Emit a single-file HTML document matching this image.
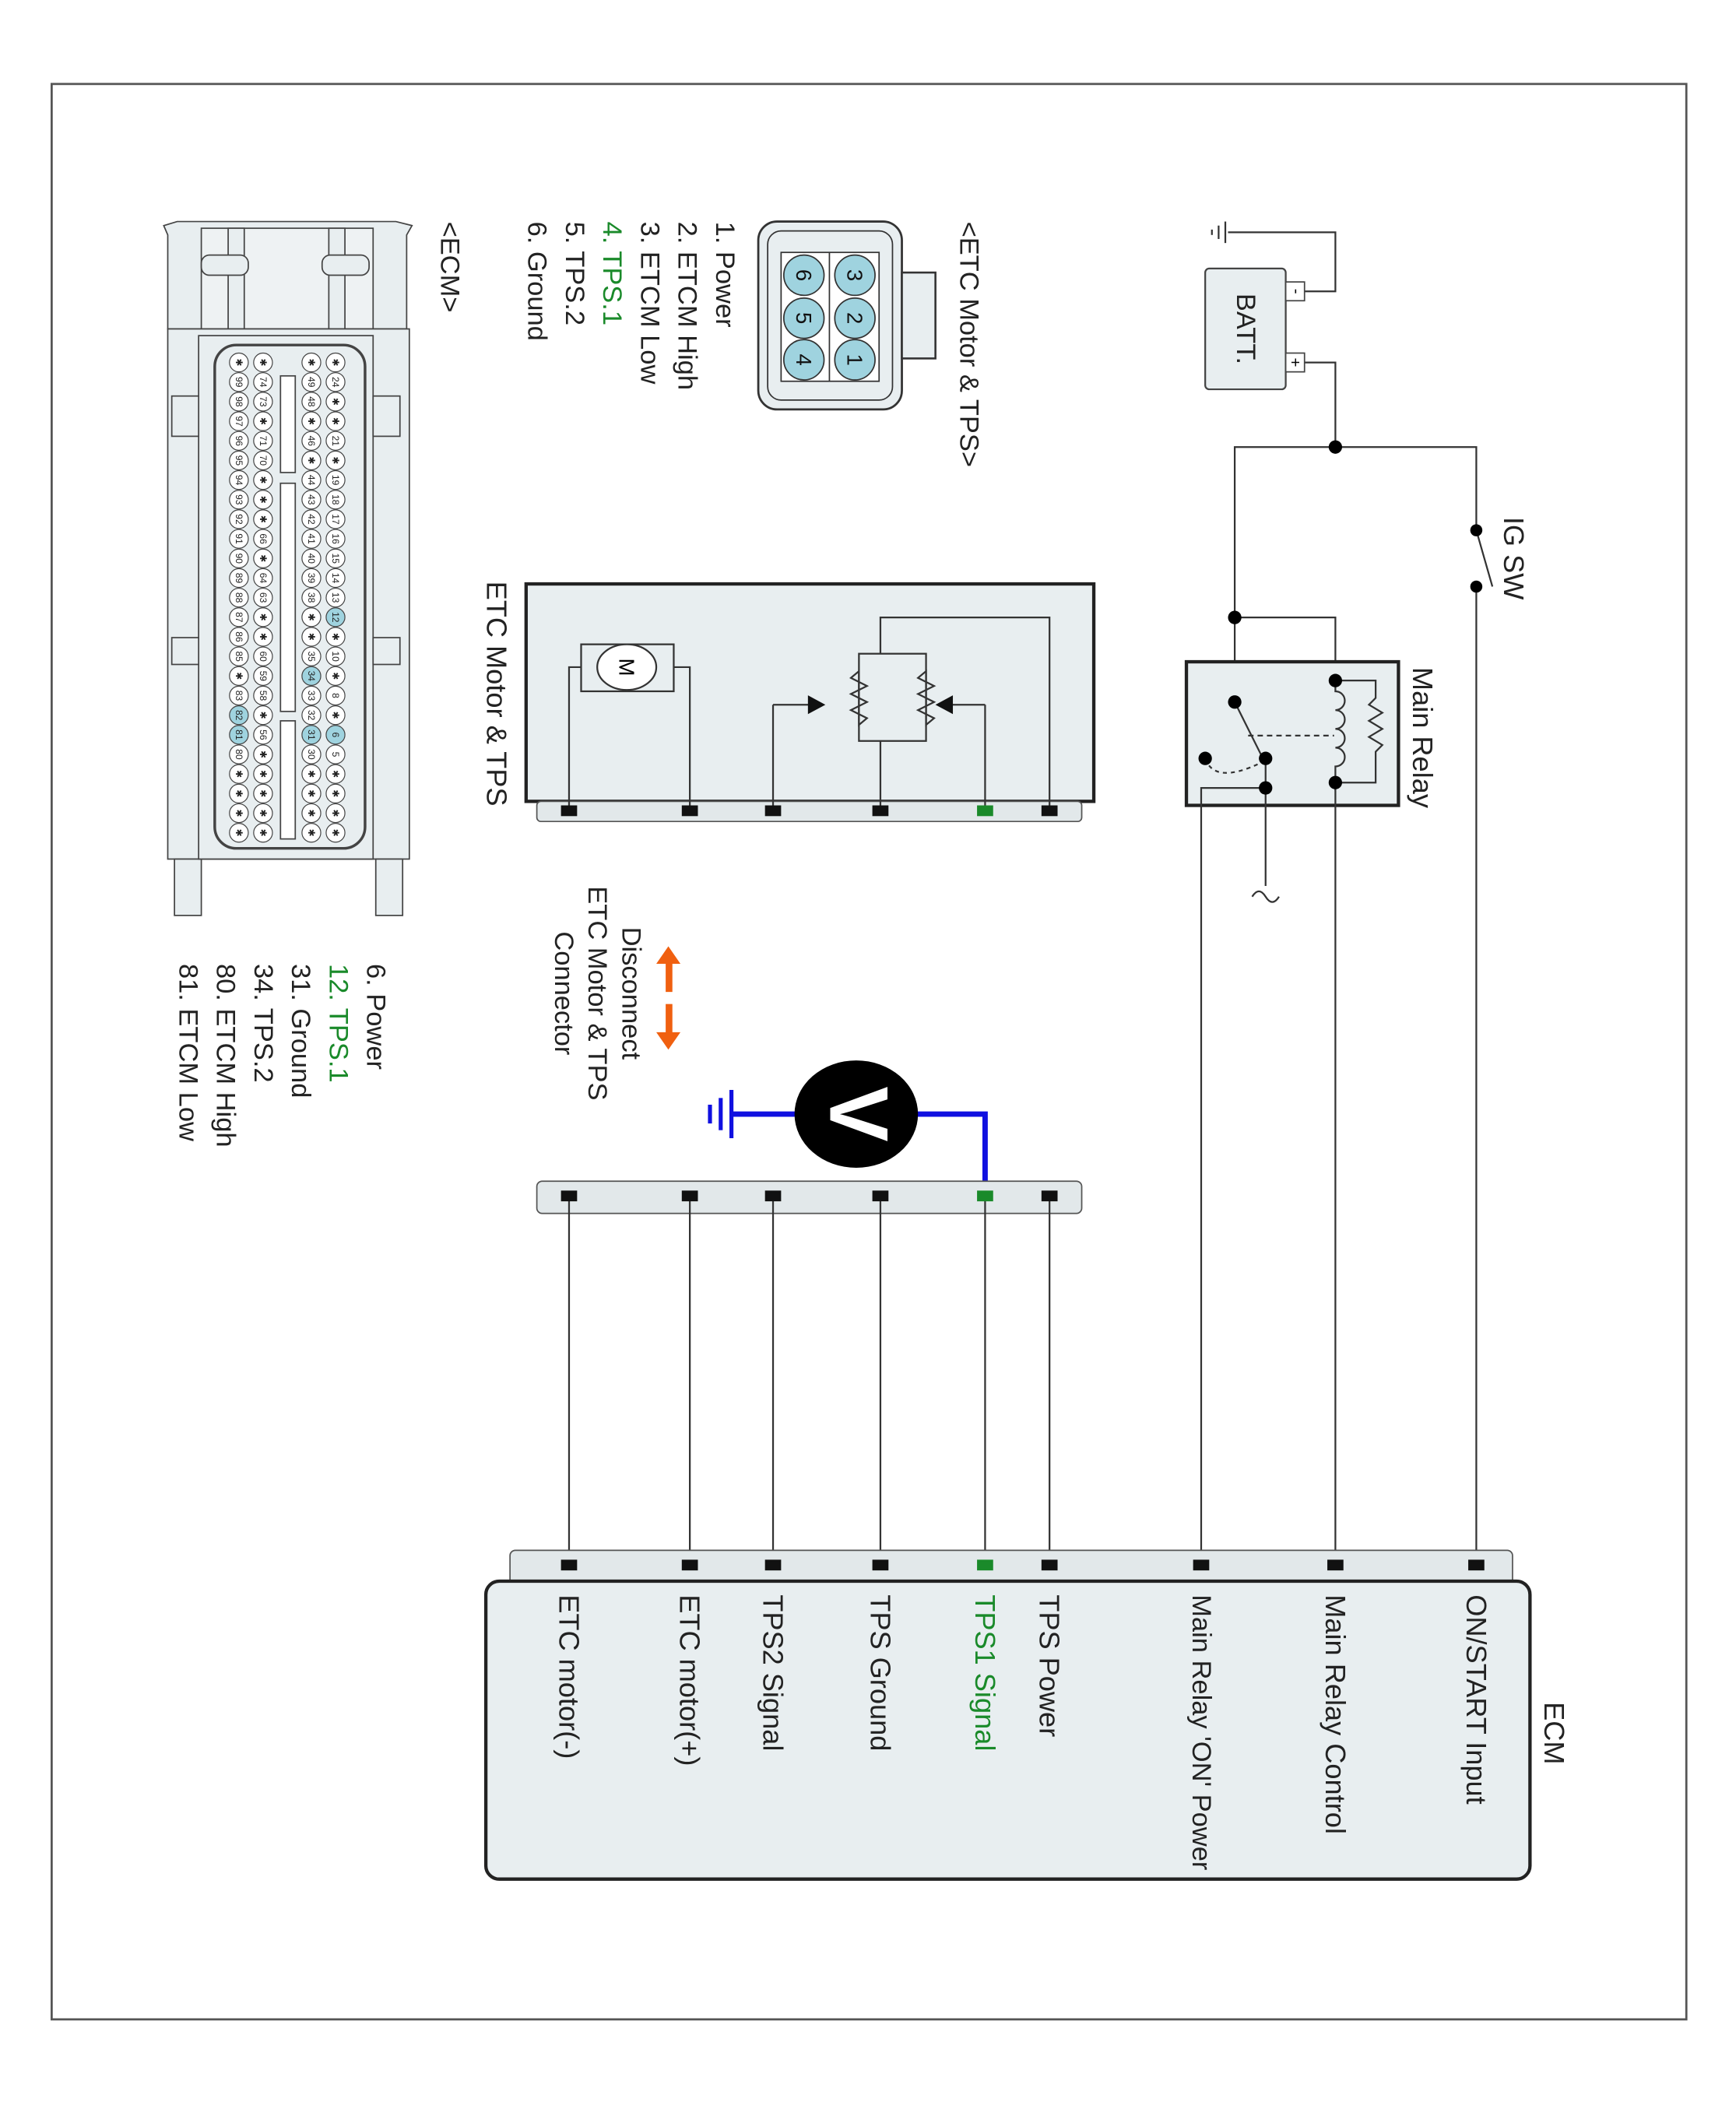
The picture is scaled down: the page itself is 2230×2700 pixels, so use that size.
<!DOCTYPE html>
<html><head><meta charset="utf-8"><style>html,body{margin:0;padding:0;background:#fff}svg{display:block}</style></head>
<body>
<svg width="2230" height="2700" viewBox="0 0 1293.5 1566" xmlns="http://www.w3.org/2000/svg" font-family="Liberation Sans, Arial, sans-serif">
<rect x="0" y="0" width="1300" height="1574" fill="#fff"/>
<rect x="38.5" y="62.5" width="1218" height="1442" fill="none" stroke="#555" stroke-width="1.6"/>

<!-- Battery -->
<g stroke="#333" stroke-width="1.3" fill="none">
<polyline points="972,217 995,217 995,173 915,173"/>
<line x1="913" y1="165" x2="913" y2="181"/><line x1="908" y1="168" x2="908" y2="178"/><line x1="903" y1="171" x2="903" y2="175"/>
<polyline points="972,270 995,270 995,333"/>
<polyline points="920,460 920,333 1100,333 1100,395"/>
<line x1="1100" y1="437" x2="1100" y2="1166"/>
<line x1="1100" y1="395" x2="1112" y2="437"/>
<polyline points="920,460 995,460 995,505"/>
<line x1="920" y1="460" x2="920" y2="523"/>
</g>
<rect x="898" y="200" width="60" height="90" rx="3" fill="#e8eef0" stroke="#444" stroke-width="1.3"/>
<rect x="958" y="210" width="14" height="14" fill="#fff" stroke="#444"/><rect x="958" y="263" width="14" height="14" fill="#fff" stroke="#444"/>
<text transform="translate(966,217) rotate(90)" font-size="12" text-anchor="middle" dominant-baseline="central">-</text>
<text transform="translate(965,270) rotate(90)" font-size="12" text-anchor="middle" dominant-baseline="central">+</text>
<text transform="translate(928,245) rotate(90)" font-size="20" text-anchor="middle" dominant-baseline="central" fill="#222">BATT.</text>
<circle cx="995" cy="333" r="5"/>
<circle cx="1100" cy="395" r="4.5"/><circle cx="1100" cy="437" r="4.5"/>
<text transform="translate(1128,385) rotate(90)" font-size="21" dominant-baseline="central" fill="#222">IG SW</text>
<circle cx="920" cy="460" r="5"/>

<!-- Main Relay -->
<rect x="884" y="493" width="158" height="107" fill="#e8eef0" stroke="#222" stroke-width="2.5"/>
<text transform="translate(1060,497) rotate(90)" font-size="21" dominant-baseline="central" fill="#222">Main Relay</text>
<g stroke="#333" stroke-width="1.3" fill="none">
<polyline points="995,507 1025,507 1025,520 1020,525 1030,531 1020,537 1030,543 1020,549 1030,555 1025,560 1025,583 995,583"/>
<path d="M995,507 v8 a7,7 0 0 1 0,14 a7,7 0 0 1 0,14 a7,7 0 0 1 0,14 a7,7 0 0 1 0,14 v18"/>
<line x1="995" y1="583" x2="995" y2="1166"/>
<line x1="920" y1="523" x2="940" y2="563"/>
<line x1="930" y1="548" x2="994" y2="548" stroke-dasharray="4,3"/>
<path d="M898,565 Q905,585 940,568" stroke-dasharray="3,3"/>
<line x1="943" y1="565" x2="943" y2="660"/>
<path d="M933,668 q5,-8 10,0 q5,8 10,0"/>
<polyline points="943,587 895,587 895,1166"/>
</g>
<circle cx="920" cy="523" r="5"/><circle cx="943" cy="565" r="5"/><circle cx="943" cy="587" r="5"/><circle cx="898" cy="565" r="5"/>
<circle cx="995" cy="507" r="5"/><circle cx="995" cy="583" r="5"/>

<!-- ETC Motor & TPS -->
<rect x="392" y="435" width="423" height="162" fill="#e8eef0" stroke="#222" stroke-width="2.5"/>
<rect x="400" y="597" width="406" height="15" rx="3" fill="#e2e8ea" stroke="#555"/>
<text transform="translate(370,433) rotate(90)" font-size="21" dominant-baseline="central" fill="#222">ETC Motor &amp; TPS</text>
<g stroke="#333" stroke-width="1.3" fill="none">
<polyline points="424,604 424,497 440,497"/><polyline points="514,604 514,497 495,497"/>
<rect x="433" y="480" width="69" height="35" fill="#e8eef0"/>
<ellipse cx="467" cy="497" rx="22" ry="17" fill="#fff"/>
<line x1="576" y1="604" x2="576" y2="525"/><line x1="576" y1="525" x2="605" y2="525"/>
<line x1="734" y1="604" x2="734" y2="525"/><line x1="734" y1="525" x2="705" y2="525"/>
<polyline points="782,604 782,460 656,460 656,487"/>
<line x1="656" y1="552" x2="656" y2="604"/>
<rect x="640" y="487" width="50" height="65"/>
<polyline points="640,520 640,500 634,505 646,511 634,517 646,523 634,529 646,535 640,540 640,520"/>
<polyline points="690,520 690,500 684,505 696,511 684,517 696,523 684,529 696,535 690,540 690,520"/>
</g>
<text transform="translate(467,497) rotate(90)" font-size="16" text-anchor="middle" dominant-baseline="central">M</text>
<polygon points="615,525 602,518 602,532" fill="#111"/>
<polygon points="697,525 710,518 710,532" fill="#111"/>
<g fill="#111"><rect x="418" y="600" width="12" height="8"/><rect x="508" y="600" width="12" height="8"/><rect x="570" y="600" width="12" height="8"/><rect x="650" y="600" width="12" height="8"/><rect x="776" y="600" width="12" height="8"/></g>
<rect x="728" y="600" width="12" height="8" fill="#1a8a2a"/>

<!-- Disconnect -->
<polygon points="498,705 489,718 507,718" fill="#f06010"/><rect x="496" y="717" width="5" height="22" fill="#f06010"/>
<polygon points="498,782 489,769 507,769" fill="#f06010"/><rect x="496" y="748" width="5" height="22" fill="#f06010"/>
<g font-size="20" fill="#222" text-anchor="middle" dominant-baseline="central">
<text transform="translate(470,740) rotate(90)">Disconnect</text>
<text transform="translate(445,740) rotate(90)">ETC Motor &amp; TPS</text>
<text transform="translate(420,740) rotate(90)">Connector</text>
</g>

<!-- Voltmeter -->
<g stroke="#1010e0" stroke-width="4" fill="none">
<polyline points="734,891 734,830 680,830"/>
<line x1="596" y1="830" x2="545" y2="830"/>
<line x1="545" y1="812" x2="545" y2="848" stroke-width="3"/>
<line x1="537" y1="818" x2="537" y2="842" stroke-width="3"/>
<line x1="529" y1="823" x2="529" y2="837" stroke-width="3"/>
</g>
<ellipse cx="638" cy="830" rx="46" ry="40" fill="#000"/>
<text transform="translate(640,830) rotate(90)" font-size="62" font-weight="bold" fill="#fff" text-anchor="middle" dominant-baseline="central">V</text>

<!-- lower connector -->
<rect x="400" y="880" width="406" height="24" rx="4" fill="#e2e8ea" stroke="#555"/>
<g stroke="#333" stroke-width="1.3">
<line x1="424" y1="891" x2="424" y2="1166"/><line x1="514" y1="891" x2="514" y2="1166"/><line x1="576" y1="891" x2="576" y2="1166"/>
<line x1="656" y1="891" x2="656" y2="1166"/><line x1="734" y1="891" x2="734" y2="1166"/><line x1="782" y1="891" x2="782" y2="1166"/>
</g>
<g fill="#111"><rect x="418" y="887" width="12" height="8"/><rect x="508" y="887" width="12" height="8"/><rect x="570" y="887" width="12" height="8"/><rect x="650" y="887" width="12" height="8"/><rect x="776" y="887" width="12" height="8"/></g>
<rect x="728" y="887" width="12" height="8" fill="#1a8a2a"/>

<!-- ECM -->
<rect x="380" y="1155" width="747" height="26" rx="4" fill="#e2e8ea" stroke="#555"/>
<rect x="362" y="1178" width="778" height="222" rx="10" fill="#e8eef0" stroke="#222" stroke-width="2.5"/>
<g fill="#111"><rect x="418" y="1162" width="12" height="8"/><rect x="508" y="1162" width="12" height="8"/><rect x="570" y="1162" width="12" height="8"/><rect x="650" y="1162" width="12" height="8"/><rect x="776" y="1162" width="12" height="8"/><rect x="889" y="1162" width="12" height="8"/><rect x="989" y="1162" width="12" height="8"/><rect x="1094" y="1162" width="12" height="8"/></g>
<rect x="728" y="1162" width="12" height="8" fill="#1a8a2a"/>
<g font-size="21" fill="#222" dominant-baseline="central">
<text transform="translate(424,1188) rotate(90)">ETC motor(-)</text>
<text transform="translate(514,1188) rotate(90)">ETC motor(+)</text>
<text transform="translate(576,1188) rotate(90)">TPS2 Signal</text>
<text transform="translate(656,1188) rotate(90)">TPS Ground</text>
<text transform="translate(734,1188) rotate(90)" fill="#1a8a2a">TPS1 Signal</text>
<text transform="translate(782,1188) rotate(90)">TPS Power</text>
<text transform="translate(895,1188) rotate(90)" font-size="20">Main Relay 'ON' Power</text>
<text transform="translate(995,1188) rotate(90)">Main Relay Control</text>
<text transform="translate(1100,1188) rotate(90)">ON/START Input</text>
<text transform="translate(1158,1268) rotate(90)">ECM</text>
</g>

<!-- ETC connector icon -->
<rect x="565" y="165" width="107" height="140" rx="14" fill="#e8eef0" stroke="#333" stroke-width="1.6"/>
<rect x="572" y="172" width="93" height="126" rx="10" fill="none" stroke="#333"/>
<rect x="672" y="203" width="25" height="64" fill="#e8eef0" stroke="#333" stroke-width="1.5"/>
<rect x="582" y="188" width="73" height="96" fill="#fff" stroke="#333"/>
<line x1="618" y1="188" x2="618" y2="284" stroke="#333"/>
<g fill="#9fd3df" stroke="#333">
<circle cx="637" cy="205" r="15"/><circle cx="637" cy="237" r="15"/><circle cx="637" cy="268" r="15"/>
<circle cx="599" cy="205" r="15"/><circle cx="599" cy="237" r="15"/><circle cx="599" cy="268" r="15"/>
</g>
<g font-size="16" text-anchor="middle" dominant-baseline="central" fill="#111">
<text transform="translate(637,205) rotate(90)">3</text><text transform="translate(637,237) rotate(90)">2</text><text transform="translate(637,268) rotate(90)">1</text>
<text transform="translate(599,205) rotate(90)">6</text><text transform="translate(599,237) rotate(90)">5</text><text transform="translate(599,268) rotate(90)">4</text>
</g>
<g font-size="20" fill="#222" dominant-baseline="central">
<text transform="translate(722,165) rotate(90)">&lt;ETC Motor &amp; TPS&gt;</text>
<text transform="translate(540,165) rotate(90)">1. Power</text>
<text transform="translate(512,165) rotate(90)">2. ETCM High</text>
<text transform="translate(484,165) rotate(90)">3. ETCM Low</text>
<text transform="translate(456,165) rotate(90)" fill="#1a8a2a">4. TPS.1</text>
<text transform="translate(428,165) rotate(90)">5. TPS.2</text>
<text transform="translate(400,165) rotate(90)">6. Ground</text>
<text transform="translate(335,165) rotate(90)">&lt;ECM&gt;</text>
<text transform="translate(280,718) rotate(90)">6. Power</text>
<text transform="translate(252,718) rotate(90)" fill="#1a8a2a">12. TPS.1</text>
<text transform="translate(224,718) rotate(90)">31. Ground</text>
<text transform="translate(196,718) rotate(90)">34. TPS.2</text>
<text transform="translate(168,718) rotate(90)">80. ETCM High</text>
<text transform="translate(140,718) rotate(90)">81. ETCM Low</text>
</g>

<!-- ECM connector drawing -->
<g stroke="#444" stroke-width="1" fill="#e8eef0">
<path d="M125,245 L125,175 L122,168 L132,165 L295,165 L307,168 L303,175 L303,245 Z"/>
<rect x="150" y="170" width="128" height="75" fill="#eef2f3"/>
<rect x="170" y="170" width="12" height="75"/><rect x="245" y="170" width="12" height="75"/>
<rect x="150" y="190" width="35" height="15" rx="6"/><rect x="240" y="190" width="35" height="15" rx="6"/>
<rect x="125" y="245" width="180" height="395"/>
<rect x="130" y="640" width="20" height="42"/><rect x="280" y="640" width="20" height="42"/>
<rect x="148" y="250" width="130" height="390"/>
<rect x="160" y="257" width="112" height="375" rx="16" stroke-width="2"/>
<rect x="128" y="295" width="20" height="30"/><rect x="278" y="295" width="20" height="30"/>
<rect x="128" y="475" width="20" height="20"/><rect x="278" y="475" width="20" height="20"/>
<rect x="209" y="280" width="11" height="72" fill="#fff"/>
<rect x="209" y="360" width="11" height="170" fill="#fff"/>
<rect x="209" y="537" width="11" height="88" fill="#fff"/>
</g>
<g font-size="7" text-anchor="middle" dominant-baseline="central" fill="#222" stroke="#444" stroke-width="0.7">
<g fill="#fff"><circle cx="250" cy="270" r="7"/><circle cx="250" cy="284.6" r="7"/><circle cx="250" cy="299.2" r="7"/><circle cx="250" cy="313.8" r="7"/><circle cx="250" cy="328.4" r="7"/><circle cx="250" cy="343" r="7"/><circle cx="250" cy="357.6" r="7"/><circle cx="250" cy="372.2" r="7"/><circle cx="250" cy="386.8" r="7"/><circle cx="250" cy="401.4" r="7"/><circle cx="250" cy="416" r="7"/><circle cx="250" cy="430.6" r="7"/><circle cx="250" cy="445.2" r="7"/><circle cx="250" cy="459.8" r="7" fill="#9fd3df"/><circle cx="250" cy="474.4" r="7"/><circle cx="250" cy="489" r="7"/><circle cx="250" cy="503.6" r="7"/><circle cx="250" cy="518.2" r="7"/><circle cx="250" cy="532.8" r="7"/><circle cx="250" cy="547.4" r="7" fill="#9fd3df"/><circle cx="250" cy="562" r="7"/><circle cx="250" cy="576.6" r="7"/><circle cx="250" cy="591.2" r="7"/><circle cx="250" cy="605.8" r="7"/><circle cx="250" cy="620.4" r="7"/></g>
<g fill="#fff"><circle cx="232" cy="270" r="7"/><circle cx="232" cy="284.6" r="7"/><circle cx="232" cy="299.2" r="7"/><circle cx="232" cy="313.8" r="7"/><circle cx="232" cy="328.4" r="7"/><circle cx="232" cy="343" r="7"/><circle cx="232" cy="357.6" r="7"/><circle cx="232" cy="372.2" r="7"/><circle cx="232" cy="386.8" r="7"/><circle cx="232" cy="401.4" r="7"/><circle cx="232" cy="416" r="7"/><circle cx="232" cy="430.6" r="7"/><circle cx="232" cy="445.2" r="7"/><circle cx="232" cy="459.8" r="7"/><circle cx="232" cy="474.4" r="7"/><circle cx="232" cy="489" r="7"/><circle cx="232" cy="503.6" r="7" fill="#9fd3df"/><circle cx="232" cy="518.2" r="7"/><circle cx="232" cy="532.8" r="7"/><circle cx="232" cy="547.4" r="7" fill="#9fd3df"/><circle cx="232" cy="562" r="7"/><circle cx="232" cy="576.6" r="7"/><circle cx="232" cy="591.2" r="7"/><circle cx="232" cy="605.8" r="7"/><circle cx="232" cy="620.4" r="7"/></g>
<g fill="#fff"><circle cx="196" cy="270" r="7"/><circle cx="196" cy="284.6" r="7"/><circle cx="196" cy="299.2" r="7"/><circle cx="196" cy="313.8" r="7"/><circle cx="196" cy="328.4" r="7"/><circle cx="196" cy="343" r="7"/><circle cx="196" cy="357.6" r="7"/><circle cx="196" cy="372.2" r="7"/><circle cx="196" cy="386.8" r="7"/><circle cx="196" cy="401.4" r="7"/><circle cx="196" cy="416" r="7"/><circle cx="196" cy="430.6" r="7"/><circle cx="196" cy="445.2" r="7"/><circle cx="196" cy="459.8" r="7"/><circle cx="196" cy="474.4" r="7"/><circle cx="196" cy="489" r="7"/><circle cx="196" cy="503.6" r="7"/><circle cx="196" cy="518.2" r="7"/><circle cx="196" cy="532.8" r="7"/><circle cx="196" cy="547.4" r="7"/><circle cx="196" cy="562" r="7"/><circle cx="196" cy="576.6" r="7"/><circle cx="196" cy="591.2" r="7"/><circle cx="196" cy="605.8" r="7"/><circle cx="196" cy="620.4" r="7"/></g>
<g fill="#fff"><circle cx="178" cy="270" r="7"/><circle cx="178" cy="284.6" r="7"/><circle cx="178" cy="299.2" r="7"/><circle cx="178" cy="313.8" r="7"/><circle cx="178" cy="328.4" r="7"/><circle cx="178" cy="343" r="7"/><circle cx="178" cy="357.6" r="7"/><circle cx="178" cy="372.2" r="7"/><circle cx="178" cy="386.8" r="7"/><circle cx="178" cy="401.4" r="7"/><circle cx="178" cy="416" r="7"/><circle cx="178" cy="430.6" r="7"/><circle cx="178" cy="445.2" r="7"/><circle cx="178" cy="459.8" r="7"/><circle cx="178" cy="474.4" r="7"/><circle cx="178" cy="489" r="7"/><circle cx="178" cy="503.6" r="7"/><circle cx="178" cy="518.2" r="7"/><circle cx="178" cy="532.8" r="7" fill="#9fd3df"/><circle cx="178" cy="547.4" r="7" fill="#9fd3df"/><circle cx="178" cy="562" r="7"/><circle cx="178" cy="576.6" r="7"/><circle cx="178" cy="591.2" r="7"/><circle cx="178" cy="605.8" r="7"/><circle cx="178" cy="620.4" r="7"/></g>
</g>
<g font-size="7" text-anchor="middle" dominant-baseline="central" fill="#222">
<text transform="translate(250,270) rotate(90)">✱</text><text transform="translate(250,284.6) rotate(90)">24</text><text transform="translate(250,299.2) rotate(90)">✱</text><text transform="translate(250,313.8) rotate(90)">✱</text><text transform="translate(250,328.4) rotate(90)">21</text><text transform="translate(250,343) rotate(90)">✱</text><text transform="translate(250,357.6) rotate(90)">19</text><text transform="translate(250,372.2) rotate(90)">18</text><text transform="translate(250,386.8) rotate(90)">17</text><text transform="translate(250,401.4) rotate(90)">16</text><text transform="translate(250,416) rotate(90)">15</text><text transform="translate(250,430.6) rotate(90)">14</text><text transform="translate(250,445.2) rotate(90)">13</text><text transform="translate(250,459.8) rotate(90)">12</text><text transform="translate(250,474.4) rotate(90)">✱</text><text transform="translate(250,489) rotate(90)">10</text><text transform="translate(250,503.6) rotate(90)">✱</text><text transform="translate(250,518.2) rotate(90)">8</text><text transform="translate(250,532.8) rotate(90)">✱</text><text transform="translate(250,547.4) rotate(90)">6</text><text transform="translate(250,562) rotate(90)">5</text><text transform="translate(250,576.6) rotate(90)">✱</text><text transform="translate(250,591.2) rotate(90)">✱</text><text transform="translate(250,605.8) rotate(90)">✱</text><text transform="translate(250,620.4) rotate(90)">✱</text>
<text transform="translate(232,270) rotate(90)">✱</text><text transform="translate(232,284.6) rotate(90)">49</text><text transform="translate(232,299.2) rotate(90)">48</text><text transform="translate(232,313.8) rotate(90)">✱</text><text transform="translate(232,328.4) rotate(90)">46</text><text transform="translate(232,343) rotate(90)">✱</text><text transform="translate(232,357.6) rotate(90)">44</text><text transform="translate(232,372.2) rotate(90)">43</text><text transform="translate(232,386.8) rotate(90)">42</text><text transform="translate(232,401.4) rotate(90)">41</text><text transform="translate(232,416) rotate(90)">40</text><text transform="translate(232,430.6) rotate(90)">39</text><text transform="translate(232,445.2) rotate(90)">38</text><text transform="translate(232,459.8) rotate(90)">✱</text><text transform="translate(232,474.4) rotate(90)">✱</text><text transform="translate(232,489) rotate(90)">35</text><text transform="translate(232,503.6) rotate(90)">34</text><text transform="translate(232,518.2) rotate(90)">33</text><text transform="translate(232,532.8) rotate(90)">32</text><text transform="translate(232,547.4) rotate(90)">31</text><text transform="translate(232,562) rotate(90)">30</text><text transform="translate(232,576.6) rotate(90)">✱</text><text transform="translate(232,591.2) rotate(90)">✱</text><text transform="translate(232,605.8) rotate(90)">✱</text><text transform="translate(232,620.4) rotate(90)">✱</text>
<text transform="translate(196,270) rotate(90)">✱</text><text transform="translate(196,284.6) rotate(90)">74</text><text transform="translate(196,299.2) rotate(90)">73</text><text transform="translate(196,313.8) rotate(90)">✱</text><text transform="translate(196,328.4) rotate(90)">71</text><text transform="translate(196,343) rotate(90)">70</text><text transform="translate(196,357.6) rotate(90)">✱</text><text transform="translate(196,372.2) rotate(90)">✱</text><text transform="translate(196,386.8) rotate(90)">✱</text><text transform="translate(196,401.4) rotate(90)">66</text><text transform="translate(196,416) rotate(90)">✱</text><text transform="translate(196,430.6) rotate(90)">64</text><text transform="translate(196,445.2) rotate(90)">63</text><text transform="translate(196,459.8) rotate(90)">✱</text><text transform="translate(196,474.4) rotate(90)">✱</text><text transform="translate(196,489) rotate(90)">60</text><text transform="translate(196,503.6) rotate(90)">59</text><text transform="translate(196,518.2) rotate(90)">58</text><text transform="translate(196,532.8) rotate(90)">✱</text><text transform="translate(196,547.4) rotate(90)">56</text><text transform="translate(196,562) rotate(90)">✱</text><text transform="translate(196,576.6) rotate(90)">✱</text><text transform="translate(196,591.2) rotate(90)">✱</text><text transform="translate(196,605.8) rotate(90)">✱</text><text transform="translate(196,620.4) rotate(90)">✱</text>
<text transform="translate(178,270) rotate(90)">✱</text><text transform="translate(178,284.6) rotate(90)">99</text><text transform="translate(178,299.2) rotate(90)">98</text><text transform="translate(178,313.8) rotate(90)">97</text><text transform="translate(178,328.4) rotate(90)">96</text><text transform="translate(178,343) rotate(90)">95</text><text transform="translate(178,357.6) rotate(90)">94</text><text transform="translate(178,372.2) rotate(90)">93</text><text transform="translate(178,386.8) rotate(90)">92</text><text transform="translate(178,401.4) rotate(90)">91</text><text transform="translate(178,416) rotate(90)">90</text><text transform="translate(178,430.6) rotate(90)">89</text><text transform="translate(178,445.2) rotate(90)">88</text><text transform="translate(178,459.8) rotate(90)">87</text><text transform="translate(178,474.4) rotate(90)">86</text><text transform="translate(178,489) rotate(90)">85</text><text transform="translate(178,503.6) rotate(90)">✱</text><text transform="translate(178,518.2) rotate(90)">83</text><text transform="translate(178,532.8) rotate(90)">82</text><text transform="translate(178,547.4) rotate(90)">81</text><text transform="translate(178,562) rotate(90)">80</text><text transform="translate(178,576.6) rotate(90)">✱</text><text transform="translate(178,591.2) rotate(90)">✱</text><text transform="translate(178,605.8) rotate(90)">✱</text><text transform="translate(178,620.4) rotate(90)">✱</text>
</g>
</svg>
</body></html>
